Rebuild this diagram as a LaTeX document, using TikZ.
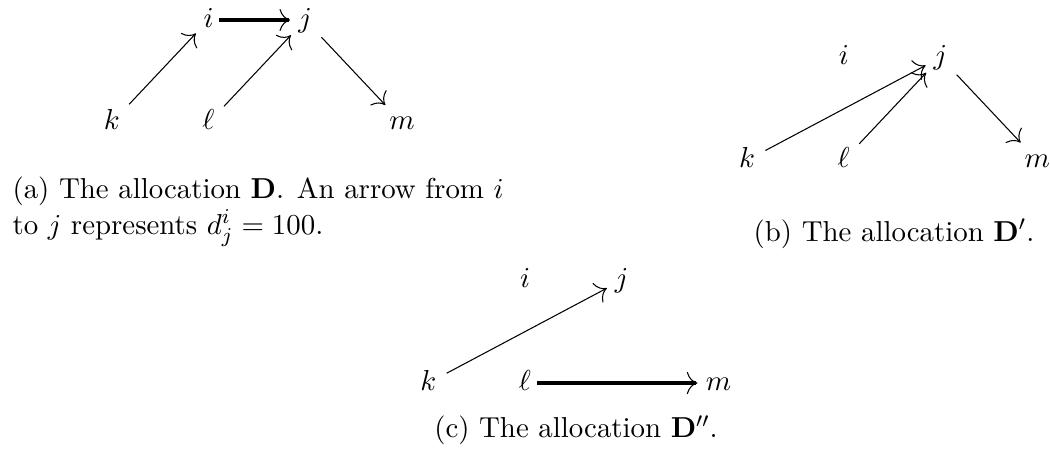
\documentclass[tikz,border=0pt]{standalone}
\usepackage{amsmath}
\usetikzlibrary{arrows.meta}

\begin{document}
\begin{tikzpicture}[
    every node/.style={font=\fontsize{10.95}{13.6}\selectfont},
    vtx/.style={inner sep=2pt, text height=1.5ex, text depth=0.25ex},
    link/.style={-{To[length=4pt]}, line width=0.4pt, shorten <=2pt, shorten >=1pt},
    heavy/.style={-{To[length=4pt, line width=0.4pt]}, line width=1.2pt, shorten >=1pt},
    caption/.style={align=left, inner sep=0pt},
]
\useasboundingbox (0,0) rectangle (14.0,6.227);

% ============================================================ (a) the allocation D
\node[vtx] (a-k) at (1.49, 4.59) {$k$};
\node[vtx] (a-l) at (2.78, 4.59) {$\ell$};
\node[vtx] (a-m) at (5.36, 4.59) {$m$};
\node[vtx] (a-i) at (2.78, 5.96) {$i$};
\node[vtx] (a-j) at (4.07, 5.96) {$j$};

\draw[link]  (a-k) -- (a-i);
\draw[heavy] (a-i) -- (a-j);
\draw[link]  (a-l) -- (a-j);
\draw[link]  (a-j) -- (a-m);

\node[caption, anchor=north west] (a-cap) at (0.16, 3.88)
    {(a) The allocation $\mathbf{D}$. An arrow from $i$\\
     to $j$ represents $d^i_j = 100$.};

% ============================================================ (b) the allocation D'
\node[vtx] (b-k) at (9.96, 4.09) {$k$};
\node[vtx] (b-l) at (11.25, 4.09) {$\ell$};
\node[vtx] (b-m) at (13.83, 4.09) {$m$};
\node[vtx] (b-i) at (11.25, 5.46) {$i$};
\node[vtx] (b-j) at (12.54, 5.46) {$j$};

\draw[link] (b-k) -- (b-j);
\draw[link] (b-l) -- (b-j);
\draw[link] (b-j) -- (b-m);

\node[caption] (b-cap) at (11.92, 3.11) {(b) The allocation $\mathbf{D}'$.};

% ============================================================ (c) the allocation D''
\node[vtx] (c-k) at (5.71, 1.12) {$k$};
\node[vtx] (c-l) at (7.00, 1.12) {$\ell$};
\node[vtx] (c-m) at (9.58, 1.12) {$m$};
\node[vtx] (c-i) at (7.00, 2.49) {$i$};
\node[vtx] (c-j) at (8.29, 2.49) {$j$};

\draw[link]  (c-k) -- (c-j);
\draw[heavy] (c-l) -- (c-m);

\node[caption] (c-cap) at (7.68, 0.49) {(c) The allocation $\mathbf{D}''$.};

\end{tikzpicture}
\end{document}
